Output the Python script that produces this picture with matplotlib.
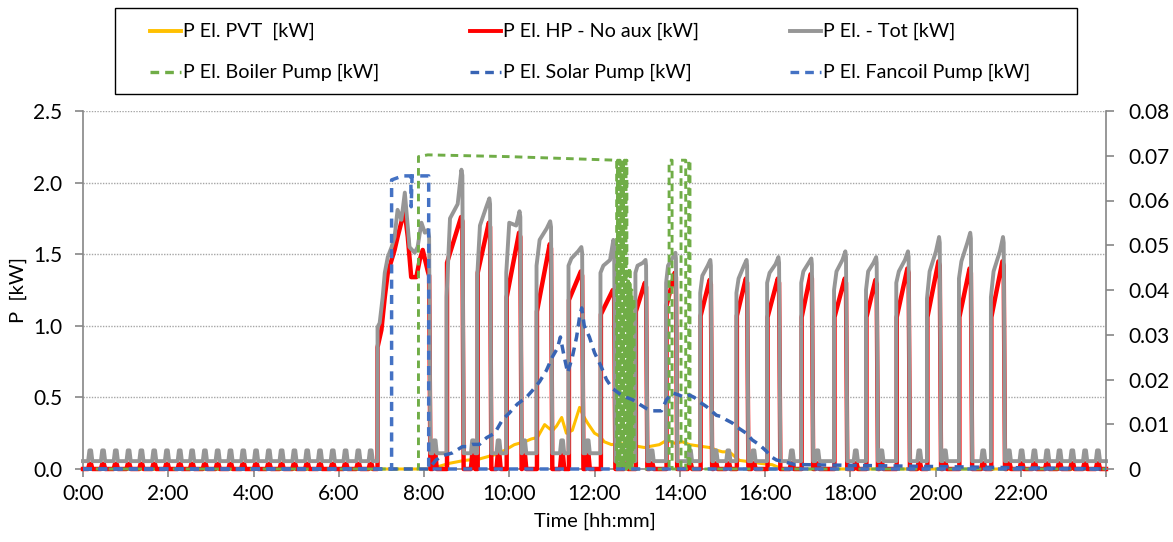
import numpy as np
import matplotlib
matplotlib.use("Agg")
import matplotlib.pyplot as plt
from matplotlib.lines import Line2D
from matplotlib.patches import Rectangle

plt.rcParams['font.family'] = ['Lato', 'DejaVu Sans']

# ---------------------------------------------------------------- data
# Heat pump compressor cycles (hours of the day)
cycle_on_h = [6.91, 8.51, 9.23, 9.91, 10.62, 11.37, 12.12, 12.94, 13.66, 14.46,
              15.31, 16.03, 16.83, 17.60, 18.35, 19.06, 19.78, 20.53, 21.28]
cycle_off_h = [8.13, 8.91, 9.56, 10.27, 10.99, 11.72, 12.47, 13.22, 13.92, 14.74,
               15.59, 16.34, 17.11, 17.91, 18.63, 19.38, 20.11, 20.84, 21.61]

# Total electric power during cycles 2..19 [kW]: start, early, late, peak
tot_start_kw = [1.20, 1.35, 1.37, 1.42, 1.42, 1.37, 1.37, 1.30, 1.23, 1.23,
                1.30, 1.30, 1.25, 1.25, 1.30, 1.19, 1.33, 1.20]
tot_early_kw = [1.75, 1.70, 1.72, 1.60, 1.47, 1.42, 1.42, 1.42, 1.35, 1.33,
                1.37, 1.38, 1.38, 1.38, 1.38, 1.38, 1.45, 1.38]
tot_late_kw = [1.85, 1.83, 1.70, 1.68, 1.52, 1.46, 1.44, 1.48, 1.42, 1.42,
               1.43, 1.44, 1.46, 1.44, 1.46, 1.52, 1.58, 1.52]
tot_peak_kw = [2.09, 1.89, 1.80, 1.73, 1.55, 1.60, 1.46, 1.51, 1.46, 1.46,
               1.48, 1.47, 1.52, 1.48, 1.52, 1.62, 1.65, 1.62]

# Heat pump power (no auxiliaries) during cycles 2..19 [kW]: start, end
hp_start_kw = [1.44, 1.37, 1.20, 1.10, 1.18, 1.08, 1.10, 1.14, 1.07, 1.07,
               1.06, 1.06, 1.06, 1.06, 1.06, 1.06, 1.06, 1.06]
hp_end_kw = [1.76, 1.72, 1.65, 1.57, 1.38, 1.25, 1.30, 1.37, 1.32, 1.33,
             1.33, 1.36, 1.33, 1.32, 1.40, 1.45, 1.40, 1.45]

# First (long) morning cycle, sampled in detail
c1_tot_h = [6.91, 6.96, 7.03, 7.08, 7.15, 7.24, 7.31, 7.38, 7.47, 7.55, 7.59,
            7.66, 7.78, 7.85, 7.94, 8.02, 8.09, 8.12]
c1_tot_kw = [0.99, 1.02, 1.20, 1.37, 1.48, 1.55, 1.62, 1.81, 1.74, 1.93, 1.79,
             1.55, 1.51, 1.55, 1.72, 1.65, 1.67, 1.62]
c1_hp_h = [6.91, 7.00, 7.08, 7.15, 7.31, 7.38, 7.50, 7.55, 7.62, 7.70, 7.82,
           7.90, 7.97, 8.05, 8.09, 8.12]
c1_hp_kw = [0.85, 0.97, 1.20, 1.37, 1.53, 1.62, 1.76, 1.79, 1.62, 1.34, 1.34,
            1.46, 1.53, 1.43, 1.38, 1.35]

# Idle periods (before cycle 1, between cycles, after cycle 19)
tot_idle_kw = [0.055, 0.11, 0.11, 0.11, 0.11, 0.11, 0.11, 0.055, 0.055, 0.055,
               0.055, 0.055, 0.055, 0.055, 0.055, 0.055, 0.055, 0.055, 0.055, 0.055]
tot_pulse_kw = [0.13, 0.20, 0.20, 0.20, 0.20, 0.20, 0.20, 0.13, 0.13, 0.13,
                0.13, 0.13, 0.13, 0.13, 0.13, 0.13, 0.13, 0.13, 0.13, 0.13]
hp_pulse_kw = [0.035, 0.10, 0.10, 0.10, 0.10, 0.10, 0.10, 0.04, 0.04, 0.04,
               0.04, 0.04, 0.04, 0.04, 0.04, 0.04, 0.04, 0.04, 0.04, 0.04]

# Stand-by pulses of the heat pump while the compressor is off (hours)
standby_pulse_h = [0.17, 0.47, 0.77, 1.07, 1.37, 1.67, 1.97, 2.27, 2.56, 2.86,
                   3.16, 3.46, 3.76, 4.06, 4.36, 4.66, 4.96, 5.26, 5.56, 5.86,
                   6.16, 6.46, 6.75, 8.25, 9.15, 9.75, 10.35, 11.24, 11.84,
                   12.74, 13.34, 14.24, 14.84, 15.14, 15.73, 16.63, 17.23,
                   18.13, 18.73, 19.62, 20.22, 21.12, 21.72, 22.02, 22.32,
                   22.62, 22.91, 23.21, 23.51, 23.81]

# PVT electric production [kW]
pvt_h = [0.0, 8.13, 8.37, 8.60, 8.95, 9.30, 9.66, 9.89, 10.12, 10.36, 10.52,
         10.66, 10.83, 10.95, 11.02, 11.11, 11.23, 11.34, 11.48, 11.65, 11.74,
         11.84, 12.00, 12.12, 12.23, 12.40, 12.59, 12.82, 12.98, 13.17, 13.34,
         13.52, 13.69, 13.88, 14.06, 14.23, 14.46, 14.70, 14.88, 15.00, 15.16,
         15.40, 15.66, 15.87, 16.17, 16.41, 24.0]
pvt_kw = [0.0, 0.0, 0.02, 0.04, 0.06, 0.07, 0.10, 0.13, 0.17, 0.19, 0.21,
          0.22, 0.31, 0.28, 0.27, 0.30, 0.36, 0.25, 0.27, 0.43, 0.37,
          0.32, 0.25, 0.23, 0.19, 0.17, 0.18, 0.16, 0.16, 0.15, 0.16,
          0.17, 0.20, 0.18, 0.19, 0.17, 0.16, 0.15, 0.13, 0.12, 0.12,
          0.06, 0.05, 0.04, 0.03, 0.0, 0.0]

# Boiler pump [kW] (secondary axis)
boiler_h = [0.0, 7.87, 7.87, 8.09, 10.0, 12.52,
            12.52, 12.54, 12.54, 12.56, 12.56, 12.58, 12.58, 12.60, 12.60,
            12.62, 12.62, 12.64, 12.64, 12.66, 12.66, 12.68, 12.68, 12.70,
            12.70, 12.72, 12.72, 12.74, 12.74, 12.76, 12.76, 12.78, 12.78,
            12.80, 12.80, 12.82, 12.82, 12.84, 12.84, 12.86, 12.86, 12.88,
            12.88, 12.90, 12.90, 12.93, 12.93,
            13.75, 13.75, 13.82, 13.82, 14.03, 14.03, 14.14, 14.14, 14.21,
            14.21, 14.24, 14.24, 24.0]
boiler_kw = [0.0, 0.0, 0.0698, 0.0702, 0.0698, 0.0690,
             0.0, 0.0, 0.069, 0.069, 0.0, 0.0, 0.069, 0.069, 0.0,
             0.0, 0.069, 0.069, 0.0, 0.0, 0.069, 0.069, 0.0, 0.0,
             0.069, 0.069, 0.0, 0.0, 0.069, 0.069, 0.0, 0.0, 0.042,
             0.042, 0.0, 0.0, 0.045, 0.045, 0.0, 0.0, 0.040, 0.040,
             0.0, 0.0, 0.038, 0.038, 0.0,
             0.0, 0.069, 0.069, 0.0, 0.0, 0.069, 0.069, 0.0, 0.0,
             0.069, 0.069, 0.0, 0.0]

# Solar circuit pump [kW] (secondary axis)
solar_h = [0.0, 8.11, 8.28, 8.44, 8.67, 8.90, 8.99, 9.13, 9.30, 9.47, 9.66,
           9.84, 10.00, 10.19, 10.40, 10.54, 10.71, 10.87, 11.01, 11.13, 11.20,
           11.27, 11.37, 11.48, 11.58, 11.65, 11.70, 11.76, 11.88, 12.00, 12.16,
           12.28, 12.42, 12.59, 12.75, 12.89, 13.05, 13.22, 13.36, 13.45, 13.57,
           13.69, 13.83, 13.99, 14.11, 14.23, 14.34, 14.46, 14.62, 14.74, 14.86,
           14.98, 15.09, 15.23, 15.40, 15.56, 15.70, 15.87, 16.03, 16.15, 16.27,
           16.50, 16.69, 24.0]
solar_kw = [0.0, 0.0, 0.0020, 0.0030, 0.0036, 0.0050, 0.0050, 0.0055, 0.0055,
            0.0070, 0.0080, 0.0110, 0.0125, 0.0145, 0.0160, 0.0175, 0.0195,
            0.0220, 0.0250, 0.0270, 0.0295, 0.0260, 0.0215, 0.0250, 0.0295,
            0.0340, 0.0360, 0.0320, 0.0295, 0.0260, 0.0228, 0.0200, 0.0180,
            0.0168, 0.0160, 0.0155, 0.0145, 0.0135, 0.0130, 0.0130, 0.0130,
            0.0155, 0.0170, 0.0165, 0.0160, 0.0165, 0.0160, 0.0150, 0.0140,
            0.0130, 0.0120, 0.0117, 0.0110, 0.0103, 0.0090, 0.0080, 0.0065,
            0.0054, 0.0040, 0.0027, 0.0020, 0.0015, 0.0010, 0.0]

# Fan-coil pump [kW] (secondary axis)
fancoil_h = [0.0, 7.24, 7.24, 7.50, 7.69, 7.70, 7.72, 7.97, 8.11, 8.11, 24.0]
fancoil_kw = [0.0, 0.0, 0.0646, 0.0655, 0.0655, 0.0586, 0.0655, 0.0655,
              0.0655, 0.0, 0.0]

# ---------------------------------------------------------------- series
def build_series(cycle_points, idle, pulse_peak):
    """Join the on-cycle samples with idle periods and stand-by pulses."""
    t, v = [0.0], [idle[0]]
    edges = [0.0] + [e for c in cycle_points for e in (c[0][0], c[0][-1])] + [24.0]
    for gi in range(len(cycle_points) + 1):
        g0, g1 = edges[2 * gi], edges[2 * gi + 1]
        base = idle[gi]
        if gi > 0:
            t.append(g0 + 0.03)
            v.append(base)
        for p in standby_pulse_h:
            if g0 + 0.06 < p < g1 - 0.06:
                t += [p - 0.05, p - 0.02, p + 0.02, p + 0.05]
                v += [base, pulse_peak[gi], pulse_peak[gi], base]
        if gi < len(cycle_points):
            t.append(g1)
            v.append(base)
            ct, cv = cycle_points[gi]
            t += list(ct)
            v += list(cv)
    t.append(24.0)
    v.append(idle[-1])
    return np.array(t), np.array(v)


tot_cycles = [(np.array(c1_tot_h), np.array(c1_tot_kw))]
hp_cycles = [(np.array(c1_hp_h), np.array(c1_hp_kw))]
for i in range(1, len(cycle_on_h)):
    on, off = cycle_on_h[i], cycle_off_h[i]
    d = off - on
    k = i - 1
    tot_cycles.append((np.array([on + 0.02, on + 0.25 * d, on + 0.7 * d, on + 0.92 * d, off - 0.01]),
                       np.array([tot_start_kw[k], tot_early_kw[k], tot_late_kw[k],
                                 tot_peak_kw[k], tot_peak_kw[k] - 0.04])))
    hp_cycles.append((np.array([on + 0.03, off - 0.04, off - 0.01]),
                      np.array([hp_start_kw[k], hp_end_kw[k], hp_end_kw[k] - 0.03])))

tot_t, tot_v = build_series(tot_cycles, tot_idle_kw, tot_pulse_kw)
hp_t, hp_v = build_series(hp_cycles, [0.0] * len(tot_idle_kw), hp_pulse_kw)

# ---------------------------------------------------------------- figure
W, H = 1173, 542
fig = plt.figure(figsize=(W / 100, H / 100), dpi=100)
ax = fig.add_axes([83 / W, 1 - 469 / H, (1106 - 83) / W, (469 - 111) / H])
ax2 = ax.twinx()

ax.plot(pvt_h, pvt_kw, color='#FFC000', lw=2.2, clip_on=False, zorder=3)
ax.plot(hp_t, hp_v, color='#FF0000', lw=3.2, clip_on=False, zorder=4)
ax.plot(tot_t, tot_v, color='#969696', lw=2.8, clip_on=False, zorder=5)

ax2.plot(boiler_h, boiler_kw, color='#70AD47', lw=2.1, dashes=(2.6, 1.8),
         clip_on=False, zorder=3)
ax2.plot(solar_h, solar_kw, color='#3864B4', lw=2.5, dashes=(2.6, 1.8),
         clip_on=False, zorder=4)
ax2.plot(fancoil_h, fancoil_kw, color='#4472C4', lw=2.5, dashes=(2.6, 1.8),
         clip_on=False, zorder=5)

ax.set_xlim(0, 24)
ax.set_ylim(0, 2.5)
ax2.set_ylim(0, 0.08)

ax.set_xticks(np.arange(0, 25, 2))
ax.set_xticklabels([f"{h}:00" for h in range(0, 24, 2)] + [''])
ax.set_yticks(np.arange(0, 2.51, 0.5))
ax.set_yticklabels([f"{v:.1f}" for v in np.arange(0, 2.51, 0.5)])
ax2.set_yticks(np.arange(0, 0.081, 0.01))
ax2.set_yticklabels(['0'] + [f"{v:.2f}" for v in np.arange(0.01, 0.081, 0.01)])

ax.yaxis.grid(True, color='#A6A6A6', ls=(0, (1, 1)), lw=1.0)
ax.set_axisbelow(True)

for a in (ax, ax2):
    for s in a.spines.values():
        s.set_color('#868686')
        s.set_linewidth(1.2)
    a.spines['top'].set_visible(False)
    a.tick_params(colors='#868686', labelcolor='black', labelsize=15,
                  length=6, width=1.2, direction='out')
ax.tick_params(axis='y', pad=9)
ax.tick_params(axis='x', pad=5)
ax2.tick_params(axis='y', pad=10)
ax.spines['right'].set_visible(False)
ax2.spines['left'].set_visible(False)
ax2.spines['bottom'].set_visible(False)

ax.set_ylabel('P  [kW]', fontsize=14.5, labelpad=4)
ax.set_xlabel('Time [hh:mm]', fontsize=14.5, labelpad=6)

# ---------------------------------------------------------------- legend
def fx(px):
    return px / W


def fy(py):
    return 1 - py / H


fig.patches.append(Rectangle((fx(115), fy(94)), fx(1077) - fx(115), fy(8) - fy(94),
                             transform=fig.transFigure, facecolor='white',
                             edgecolor='black', lw=1.0, zorder=10))
legend_rows = [
    [('#FFC000', None, 'P El. PVT  [kW]'),
     ('#FF0000', None, 'P El. HP - No aux [kW]'),
     ('#969696', None, 'P El. - Tot [kW]')],
    [('#70AD47', (2.6, 1.8), 'P El. Boiler Pump [kW]'),
     ('#3864B4', (2.6, 1.8), 'P El. Solar Pump [kW]'),
     ('#4472C4', (2.6, 1.8), 'P El. Fancoil Pump [kW]')],
]
col_x = [150, 470, 790]
row_y = [31, 72]
for r, row in enumerate(legend_rows):
    for c, (col, dash, label) in enumerate(row):
        x0 = col_x[c]
        kw = dict(color=col, lw=2.8 if dash is None else 2.4, transform=fig.transFigure,
                  zorder=11)
        if dash is not None:
            kw['dashes'] = dash
        fig.lines.append(Line2D([fx(x0), fx(x0 + 31)], [fy(row_y[r])] * 2, **kw))
        fig.text(fx(x0 + 33), fy(row_y[r]), label, fontsize=14.2, va='center',
                 ha='left', zorder=12)

fig.savefig('out.png', dpi=100)
